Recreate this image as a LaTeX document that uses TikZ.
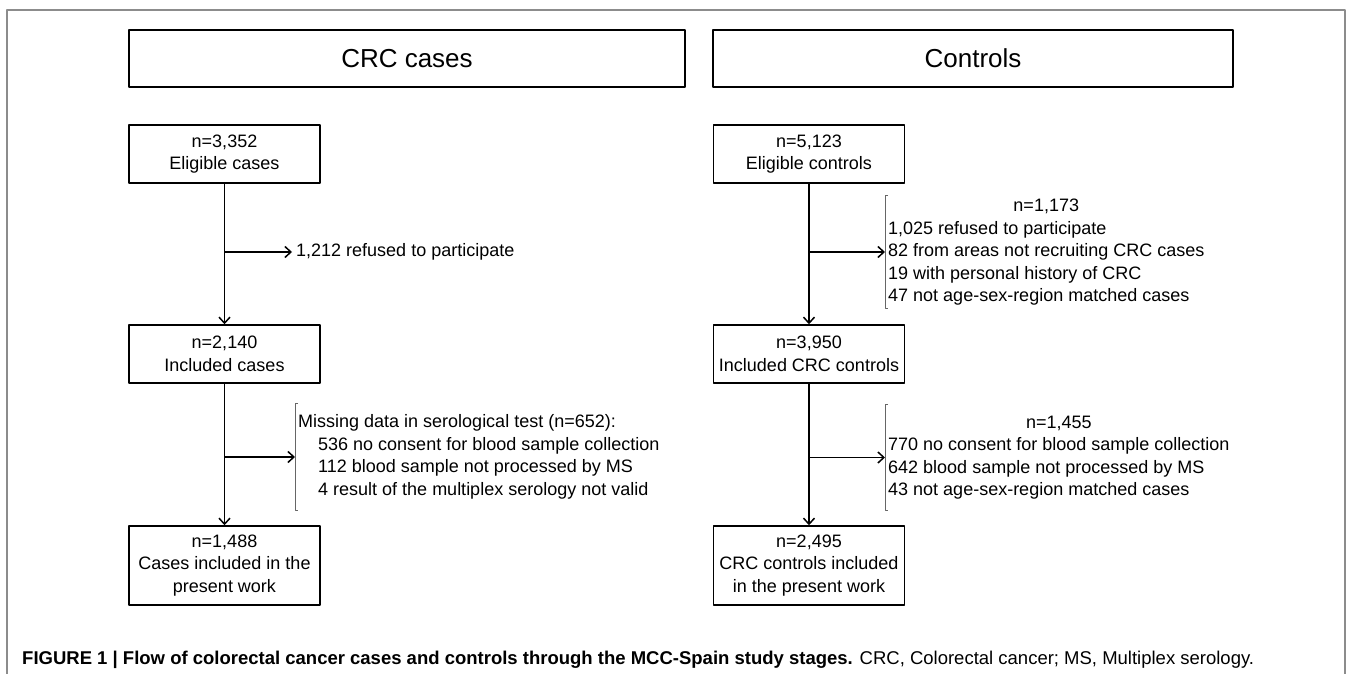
\documentclass[tikz,border=0pt]{standalone}
\usepackage{fontspec}
\setmainfont{Liberation Sans}
\usetikzlibrary{arrows.meta}
\newcommand{\boxfont}{\fontsize{18}{22.5}\selectfont}
\newcommand{\headfont}{\fontsize{26}{30}\selectfont}
\newcommand{\capfont}{\fontsize{18.5}{22}\selectfont}
\tikzset{
  headbox/.style={draw, line width=1.5pt, minimum height=57pt, inner sep=0pt, font=\headfont},
  stagebox/.style={draw, line width=1.5pt, minimum width=191pt, inner sep=0pt, align=center, font=\boxfont},
  note/.style={anchor=west, inner xsep=3pt, inner ysep=0pt, minimum height=106pt, font=\boxfont},
  flow/.style={->, line width=1.5pt},
  bracket/.style={line width=0.7pt, black!60}
}
\begin{document}
\begin{tikzpicture}[x=1pt, y=-1pt, >={Straight Barb[length=6pt,width=11pt]}, line join=round]
\useasboundingbox (0,0) rectangle (1358,674);
\draw[line width=1.3pt, black!45] (7,674) -- (7,10) -- (1345,10) -- (1345,674);
% headings
\node[headbox, minimum width=556pt] (crc) at (407,58.5) {CRC cases};
\node[headbox, minimum width=520pt] (ctl) at (973,58.5) {Controls};
% cases
\node[stagebox, minimum height=58pt] (ec) at (224.5,154) {n=3,352\\Eligible cases};
\node[stagebox, minimum height=58pt] (ic) at (224.5,354) {n=2,140\\Included cases};
\node[stagebox, minimum height=79pt] (fc) at (224.5,565.5) {n=1,488\\Cases included in the\\present work};
\node[anchor=west, inner xsep=4pt, font=\boxfont] (ref) at (292,252) {1,212 refused to participate};
\node[note] (miss) at (295,457) {\begin{tabular}{@{}l@{}}
  Missing data in serological test (n=652):\\
  \hspace{20pt}536 no consent for blood sample collection\\
  \hspace{20pt}112 blood sample not processed by MS\\
  \hspace{20pt}4 result of the multiplex serology not valid
\end{tabular}};
% controls
\node[stagebox, minimum height=58pt] (eo) at (809,154) {n=5,123\\Eligible controls};
\node[stagebox, minimum height=58pt] (io) at (809,354) {n=3,950\\Included CRC controls};
\node[stagebox, minimum height=79pt] (fo) at (809,565.5) {n=2,495\\CRC controls included\\in the present work};
\node[note] (exc) at (885,252) {\begin{tabular}{@{}l@{}}
  \multicolumn{1}{@{}c@{}}{n=1,173}\\
  1,025 refused to participate\\
  82 from areas not recruiting CRC cases\\
  19 with personal history of CRC\\
  47 not age-sex-region matched cases
\end{tabular}};
\node[note] (lost) at (885,457.5) {\begin{tabular}{@{}l@{}}
  \multicolumn{1}{@{}c@{}}{n=1,455}\\
  770 no consent for blood sample collection\\
  642 blood sample not processed by MS\\
  43 not age-sex-region matched cases
\end{tabular}};
% connectors
\draw[flow] (ec) -- (ic);
\draw[flow] (ic) -- (fc);
\draw[flow] (eo) -- (io);
\draw[flow] (io) -- (fo);
\draw[flow] (ec.south |- ref.west) -- (ref.west);
\foreach \src/\n in {ic/miss, eo/exc, io/lost}{
  \draw[flow] (\src.south |- \n.west) -- (\n.west);
  \draw[bracket] ([xshift=3pt]\n.north west) -- (\n.north west) -- (\n.south west) -- ([xshift=3pt]\n.south west);
}
% caption
\node[anchor=base west, inner sep=0pt, font=\capfont] (cap) at (22,664)
  {\textbf{FIGURE 1 | Flow of colorectal cancer cases and controls through the MCC-Spain study stages.} CRC, Colorectal cancer; MS, Multiplex serology.};
\end{tikzpicture}
\end{document}
